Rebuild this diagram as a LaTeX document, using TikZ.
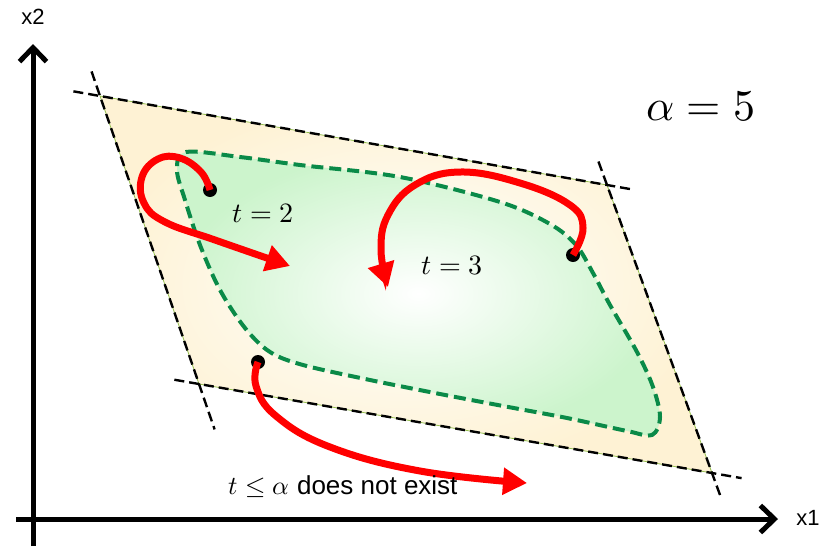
\documentclass[tikz,border=0pt]{standalone}
\usepackage{fontspec}
\usepackage{unicode-math}
\setmathfont{Latin Modern Math}
\setsansfont{Liberation Sans}
\usetikzlibrary{arrows.meta,calc}
\definecolor{paraout}{RGB}{254,242,212}
\definecolor{greenout}{RGB}{204,244,204}
\definecolor{dashgreen}{RGB}{10,138,72}
\definecolor{edgegreen}{RGB}{150,190,80}
\definecolor{arrred}{RGB}{255,0,0}
\begin{document}
\begin{tikzpicture}[x=1pt,y=-1pt,
  extline/.style={black,line width=2.4pt,dash pattern=on 10pt off 5pt},
  axisline/.style={black,line width=5pt,-{Straight Barb[length=14pt,width=27pt]}},
  redarrow/.style={arrred,line width=7pt,-{Triangle[length=24pt,width=26pt]}},
  dotnode/.style={circle,fill=black,inner sep=0pt,minimum size=14pt},
  axlabel/.style={font=\sffamily\fontsize{22}{26}\selectfont},
  mathlabel/.style={font=\fontsize{28}{32}\selectfont}]
\useasboundingbox (0,0) rectangle (826,546);
% parallelogram
\coordinate (TL) at (100,96);
\coordinate (TR) at (607,185);
\coordinate (BR) at (712,473);
\coordinate (BL) at (199,384);
\shade[inner color=white,outer color=paraout] (TL)--(TR)--(BR)--(BL)--cycle;
\draw[edgegreen,line width=0.8pt] (TL)--(TR)--(BR)--(BL)--cycle;
\draw[extline] ($(TL)!-27pt!(TR)$) -- ($(TR)!-27pt!(TL)$);
\draw[extline] ($(TL)!-26pt!(BL)$) -- ($(BL)!-48pt!(TL)$);
\draw[extline] ($(TR)!-25pt!(BR)$) -- ($(BR)!-26pt!(TR)$);
\draw[extline] ($(BL)!-25pt!(BR)$) -- ($(BR)!-30pt!(BL)$);
% green region
\shadedraw[inner color=white,outer color=greenout,draw=dashgreen,line width=4pt,dash pattern=on 12pt off 6pt]
  plot[smooth cycle,tension=0.55] coordinates {(186,152) (240,157) (300,165) (400,177) (500,202) (550,224) (576,245) (593,273) (610,305) (637,352) (653,387) (660,417) (652,435) (627,431) (567,418) (503,406) (440,394) (370,380) (303,365) (270,352) (245,328) (220,290) (200,245) (185,200) (177,170)};
% axes
\coordinate (o1) at (16,519);
\coordinate (x1e) at (778,519);
\coordinate (o2) at (33,546);
\coordinate (x2e) at (33,44);
\draw[axisline] (o1) -- (x1e);
\draw[axisline] (o2) -- (x2e);
\node[axlabel] (x1) at (808,518) {x1};
\node[axlabel] (x2) at (33,17) {x2};
% dots
\node[dotnode] (d1) at (210,190) {};
\node[dotnode] (d2) at (573,255) {};
\node[dotnode] (d3) at (258,362) {};
% red arrows
\coordinate (e1) at (290,266);
\coordinate (e2) at (388,287);
\coordinate (e3) at (527,483);
\draw[redarrow] plot[smooth,tension=0.7] coordinates {(d1.center) (201,172) (180,158) (158,159) (142,177) (144,203) (165,222) (215,240) (e1)};
\draw[redarrow] plot[smooth,tension=0.7] coordinates {(d2.center) (583,228) (570,205) (520,183) (460,172) (415,185) (388,215) (381,250) (e2)};
\draw[redarrow] plot[smooth,tension=0.7] coordinates {(d3.center) (256,386) (276,416) (330,447) (420,471) (e3)};
% labels
\node[mathlabel] (t2) at (263,213) {$t=2$};
\node[mathlabel] (t3) at (452,265) {$t=3$};
\node[font=\fontsize{44}{50}\selectfont] (al) at (701,106) {$\alpha=5$};
\node[font=\fontsize{26}{30}\selectfont] (ne) at (343,487) {$t\le\alpha$ \sffamily does not exist};
\end{tikzpicture}
\end{document}
